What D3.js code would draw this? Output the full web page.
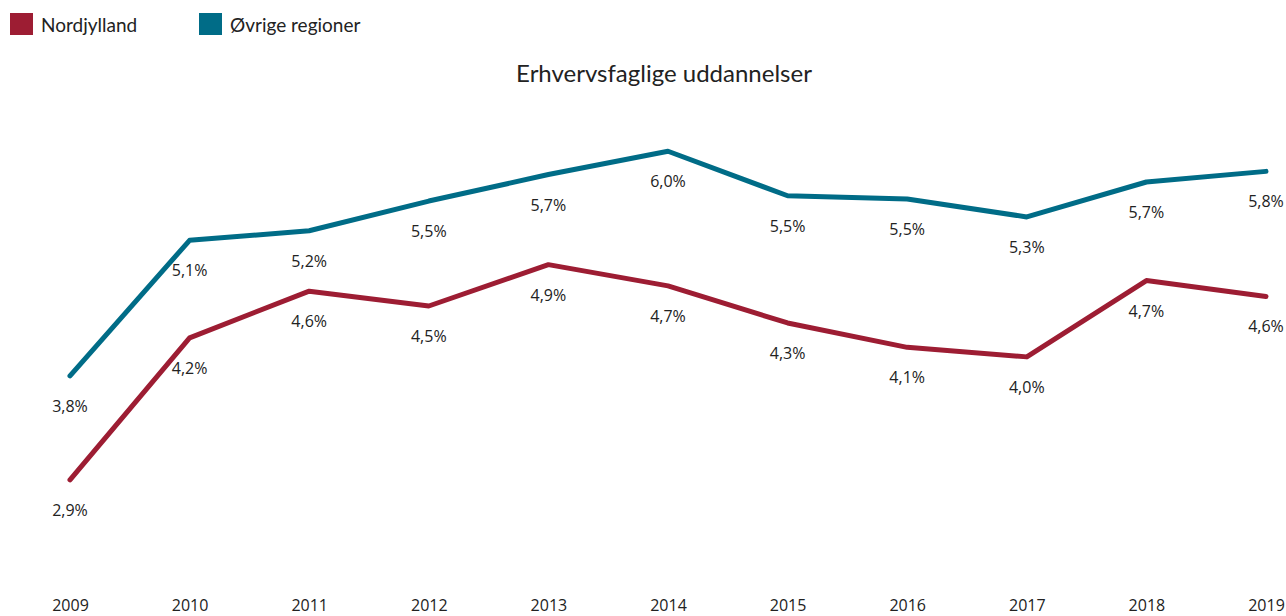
<!DOCTYPE html>
<html>
<head>
<meta charset="utf-8">
<script src="https://cdn.jsdelivr.net/npm/d3@7"></script>
<style>
  body { margin: 0; background: #fff; }
  svg { display: block; }
</style>
</head>
<body>
<div id="chart"></div>
<script>
const years = ["2009", "2010", "2011", "2012", "2013", "2014", "2015", "2016", "2017", "2018", "2019"];
const nordjylland = [2.86, 4.20, 4.64, 4.50, 4.89, 4.69, 4.34, 4.11, 4.02, 4.74, 4.59];
const oevrige = [3.84, 5.12, 5.21, 5.49, 5.74, 5.96, 5.54, 5.51, 5.34, 5.67, 5.77];
const seriesNames = ["Nordjylland", "Øvrige regioner"];
const colors = ["#9d1d33", "#006c87"];
const title = "Erhvervsfaglige uddannelser";

const width = 1286, height = 616;

const svg = d3.select("#chart").append("svg")
    .attr("width", width)
    .attr("height", height);

const x = d3.scalePoint().domain(years).range([70, 1266]);
const y = d3.scaleLinear().domain([2, 6]).range([571, 147]);

const locale = d3.formatLocale({ decimal: ",", thousands: ".", grouping: [3], currency: ["", " kr."] });
const fmt = locale.format(".1f");

// legend
const legend = svg.append("g");
seriesNames.forEach(function (name, i) {
    const lx = i === 0 ? 10 : 199;
    legend.append("rect")
        .attr("x", lx).attr("y", 13)
        .attr("width", 23).attr("height", 22)
        .attr("fill", colors[i]);
    legend.append("text")
        .attr("x", lx + 31).attr("y", 32)
        .style("font-family", "Lato, sans-serif")
        .style("font-size", "19px")
        .attr("fill", "#222")
        .text(name);
});

// title
svg.append("text")
    .attr("x", 664).attr("y", 82)
    .attr("text-anchor", "middle")
    .style("font-family", "Lato, sans-serif")
    .style("font-size", "24px")
    .attr("fill", "#222")
    .text(title);

// x axis labels (no line, no ticks)
const xAxis = svg.append("g")
    .attr("transform", "translate(0,600)")
    .call(d3.axisBottom(x).tickSize(0).tickPadding(0));
xAxis.select(".domain").remove();
xAxis.selectAll("text")
    .attr("y", 11)
    .attr("dy", null)
    .style("font-family", "'Open Sans', sans-serif")
    .style("font-size", "16px")
    .attr("fill", "#222");

const line = d3.line()
    .x(function (d, i) { return x(years[i]); })
    .y(function (d) { return y(d); });

[nordjylland, oevrige].forEach(function (values, s) {
    svg.append("path")
        .datum(values)
        .attr("fill", "none")
        .attr("stroke", colors[s])
        .attr("stroke-width", 5)
        .attr("stroke-linecap", "round")
        .attr("stroke-linejoin", "round")
        .attr("d", line);

    svg.append("g").selectAll("text")
        .data(values)
        .enter()
        .append("text")
        .attr("x", function (d, i) { return x(years[i]); })
        .attr("y", function (d) { return y(d) + 36; })
        .attr("text-anchor", "middle")
        .style("font-family", "'Open Sans', sans-serif")
        .style("font-size", "16px")
        .attr("fill", "#222")
        .text(function (d) { return fmt(d) + "%"; });
});
</script>
</body>
</html>
